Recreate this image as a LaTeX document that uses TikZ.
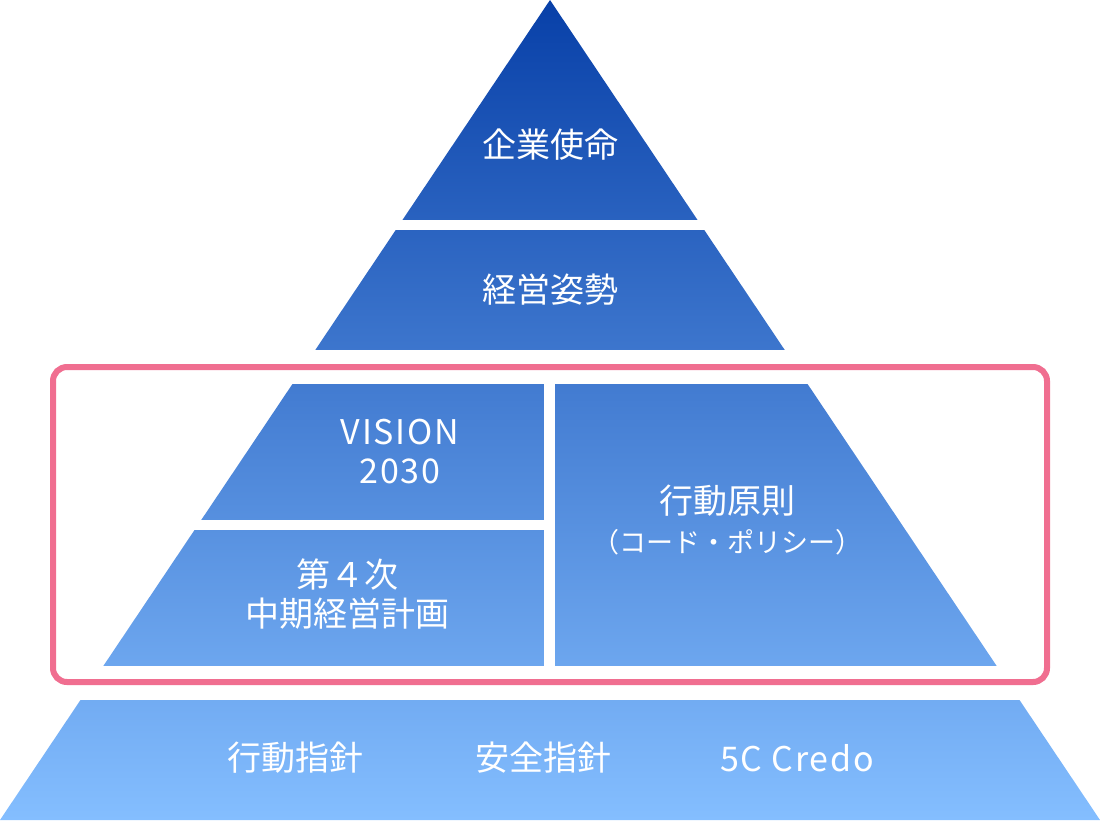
\documentclass[tikz,border=0pt]{standalone}
\usepackage{fontspec}
\newfontfamily\jpfont{Noto Sans CJK JP}
\newfontfamily\latinfont[LetterSpace=5]{Noto Sans CJK JP}
\definecolor{PyrTop}{HTML}{0840A8}
\definecolor{PyrBottom}{HTML}{84BEFF}
\definecolor{FramePink}{HTML}{F06E90}
\newcommand{\notesize}{\fontsize{27}{32}\selectfont}

\begin{document}
\begin{tikzpicture}[
          x=1pt,y=-1pt,
          gap/.style={fill=white},
          tier/.style={text=white,align=center,
            font=\jpfont\fontsize{34}{39}\selectfont},
          latintier/.style={tier,font=\latinfont\fontsize{34}{39}\selectfont},
          focusframe/.style={draw=FramePink,line width=6pt,rounded corners=14pt}
        ]
        \path[use as bounding box] (0,0) rectangle (1100,820);
        % pyramid body with one gradient
        \shade[top color=PyrTop,bottom color=PyrBottom]
          (550,0) -- (1100,820) -- (0,820) -- cycle;

        % white cuts between the tiers
        \fill[gap] (0,220) rectangle (1100,230);
        \fill[gap] (0,350) rectangle (1100,384);
        \fill[gap] (0,665.5) rectangle (1100,700);
        \fill[gap] (544,384) rectangle (555,666);
        \fill[gap] (0,519.5) rectangle (544,530);

        \draw[focusframe] (53,367) rectangle (1047,682);

        \node[tier] (mission) at (550,145) {企業使命};
        \node[tier] (stance) at (550,290) {経営姿勢};
        \node[latintier] (vision) at (400,452) {VISION\\2030};
        \node[tier] (midplan) at (347,594) {第４次\\中期経営計画};
        \node[tier] (principle) at (727,520)
          {行動原則\\{\notesize （コード・ポリシー）}};
        \node[tier] (conduct) at (295,758) {行動指針};
        \node[tier] (safety) at (543,758) {安全指針};
        \node[latintier] (credo) at (797,758) {5C Credo};
      \end{tikzpicture}
\end{document}
